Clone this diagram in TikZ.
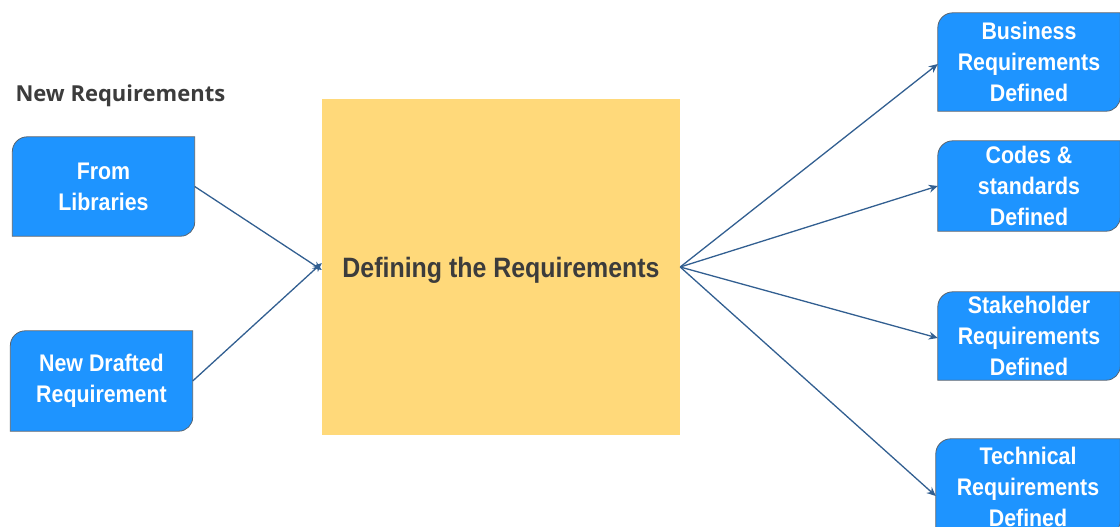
\documentclass[tikz,border=0pt]{standalone}
\usepackage{fontspec}
\setmainfont{Liberation Sans}[FakeStretch=0.89]
\newfontfamily\labelfont{Open Sans}
\usetikzlibrary{arrows.meta,backgrounds}
\definecolor{boxblue}{RGB}{30,148,255}
\definecolor{boxedge}{RGB}{90,100,110}
\definecolor{padyellow}{RGB}{255,217,122}
\definecolor{arrowblue}{RGB}{50,95,145}
\definecolor{darktext}{RGB}{60,60,60}
\tikzset{
  reqbox/.style={minimum width=182pt, inner sep=0pt, align=center,
    text=white, font=\fontsize{24}{31}\selectfont\bfseries},
  centerbox/.style={fill=padyellow, minimum width=358pt, minimum height=336pt,
    inner sep=0pt, text height=20pt, text depth=0pt, text=darktext,
    font=\fontsize{28}{34}\selectfont\bfseries},
  flow/.style={draw=arrowblue, line width=1.3pt,
    -{Stealth[length=9pt,width=8pt]}},
  boxshape/.style={fill=boxblue, draw=boxedge, line width=0.8pt}
}
\begin{document}
\begin{tikzpicture}[x=1pt,y=-1pt]
\useasboundingbox (0,0) rectangle (1120,527);
\node[anchor=west, text=darktext, font=\labelfont\fontsize{22}{26}\selectfont\bfseries] (title) at (12,96) {New Requirements};
\node[reqbox, minimum height=99pt] (lib) at (103.5,186.5) {From\\Libraries};
\node[reqbox, minimum height=100pt] (draft) at (101.5,381) {New Drafted\\Requirement};
\node[centerbox] (def) at (501,267) {Defining the Requirements};
\node[reqbox, minimum height=98pt] (bus) at (1029,62) {Business\\Requirements\\Defined};
\node[reqbox, minimum height=90pt] (codes) at (1029,186) {Codes \&\\standards\\Defined};
\node[reqbox, minimum height=88pt] (stake) at (1029,336) {Stakeholder\\Requirements\\Defined};
\node[reqbox, minimum width=184pt, minimum height=96pt] (tech) at (1028,487) {Technical\\Requirements\\Defined};
\begin{scope}[on background layer]
\foreach \b in {lib,draft,bus,codes,stake,tech}{
  \path[boxshape] (\b.south west) -- ([yshift=-15pt]\b.north west)
    .. controls ([yshift=-6.7pt]\b.north west) and ([xshift=6.7pt]\b.north west) .. ([xshift=15pt]\b.north west)
    -- (\b.north east)
    -- ([yshift=14pt]\b.south east)
    .. controls ([yshift=6.3pt]\b.south east) and ([xshift=-6.3pt]\b.south east) .. ([xshift=-14pt]\b.south east)
    -- cycle;
}
\end{scope}
\draw[flow] (lib.east) -- ([yshift=-3pt]def.west);
\draw[flow] (draft.east) -- ([yshift=4pt]def.west);
\draw[flow] (def.east) -- ([yshift=-2pt]bus.west);
\draw[flow] (def.east) -- (codes.west);
\draw[flow] (def.east) -- ([yshift=-2pt]stake.west);
\draw[flow] (def.east) -- ([yshift=-9pt]tech.west);
\end{tikzpicture}
\end{document}
